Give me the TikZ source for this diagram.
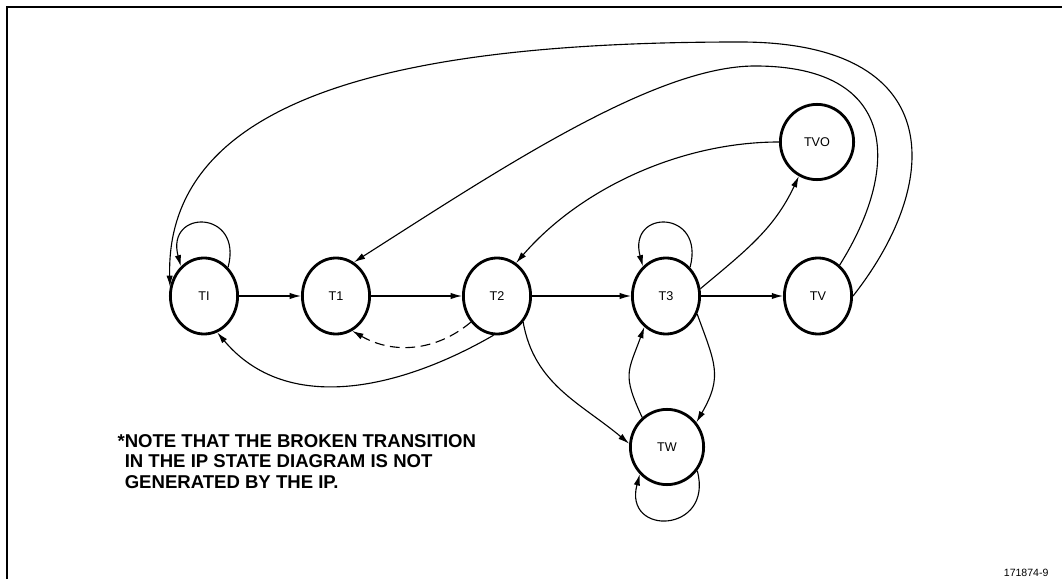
\documentclass[tikz,border=0pt]{standalone}
\usepackage{fontspec}
\setmainfont{Liberation Sans}
\usepackage{tikz}
\usetikzlibrary{arrows.meta,shapes.geometric}

\begin{document}
\begin{tikzpicture}[x=0.025cm, y=0.025cm, >={Latex[length=8pt,width=4.5pt]}, line width=0.8pt]
\tikzstyle{st}=[ellipse,draw,line width=2pt,minimum width=1.68cm,minimum height=1.9cm,inner sep=0pt,font=\fontsize{9}{10}\selectfont]
\tikzstyle{big}=[minimum width=1.83cm,minimum height=1.88cm]
\useasboundingbox (0,0) rectangle (1062,579);
\draw[line width=1.8pt] (7,0) -- (7,572) -- (1062,572);
% states
\node[st] (ti) at (204,283) {TI};
\node[st] (t1) at (336,283) {T1};
\node[st] (t2) at (497,283) {T2};
\node[st] (t3) at (666,283) {T3};
\node[st] (tv) at (818,283) {TV};
\node[st,big] (tvo) at (817,437) {TVO};
\node[st,big] (tw) at (667,132) {TW};
% main row
\draw[->] (ti) -- (t1);
\draw[->] (t1) -- (t2);
\draw[->] (t2) -- (t3);
\draw[->] (t3) -- (tv);
% self loops
\draw[->] (ti.50) .. controls +(75:60) and +(105:60) .. (ti.128);
\draw[->] (t3.50) .. controls +(75:60) and +(105:60) .. (t3.128);
\draw[->] (tw.-38) .. controls +(-75:65) and +(-105:65) .. (tw.-135);
% returns over the top
\draw[->] (tv.0) .. controls (945,400) and (945,537) .. (740,537) .. controls (420,537) and (165,490) .. (ti.165);
\draw[->] (tv.55) .. controls (900,410) and (900,513) .. (755,513) .. controls (655,513) and (500,410) .. (t1.62);
\draw[->] (tvo.west) .. controls (680,437) and (580,390) .. (t2.60);
\draw[->] (t3.12) to[out=40,in=-115] (tvo.-118);
% below the row
\draw[->] (t2.-95) to[out=-150,in=-50] (ti.-70);
\draw[->,dash pattern=on 7pt off 4pt] (t2.-135) to[out=-140,in=-30] (t1.-65);
\draw[->] (t2.-45) to[out=-80,in=140] (tw.175);
\draw[->] (t3.-30) to[out=-70,in=60,looseness=1.25] (tw.40);
\draw[->] (tw.130) to[out=115,in=-110,looseness=1.35] (t3.-125);
% texts
\node[anchor=north west,inner sep=0pt,align=left,font=\bfseries\fontsize{13.2}{14.4}\selectfont] (note) at (117,145)
  {*NOTE THAT THE BROKEN TRANSITION\\\phantom{*}IN THE IP STATE DIAGRAM IS NOT\\\phantom{*}GENERATED BY THE IP.};
\node[anchor=south east,inner sep=0pt,font=\fontsize{7.5}{8}\selectfont] (fig) at (1049,2) {171874-9};
\end{tikzpicture}
\end{document}
